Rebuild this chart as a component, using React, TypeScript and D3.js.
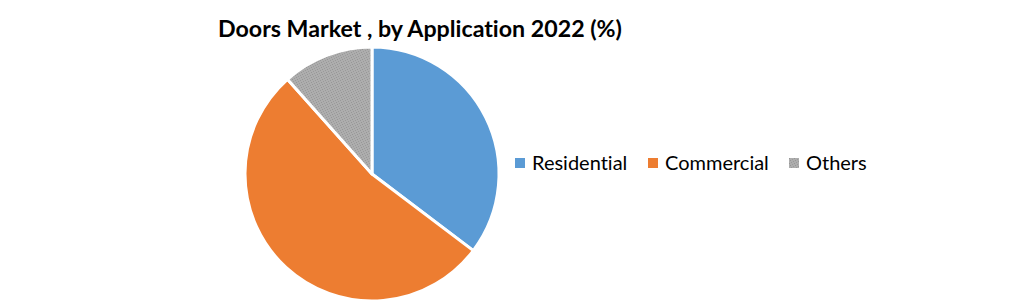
import React from "react";
import * as d3 from "d3";

const categories = ["Residential", "Commercial", "Others"];
const values = [35.3, 53.1, 11.6];
const colors = ["#5b9bd5", "#ed7d31", "#a5a5a5"];
const title = "Doors Market , by Application  2022 (%)";

export default function App() {
  const W = 1021, H = 304;
  const cx = 372, cy = 174, r = 127;
  const pie = d3.pie<number>().sort(null).value((d) => d)(values);
  const arc = d3.arc<d3.PieArcDatum<number>>().innerRadius(0).outerRadius(r);
  const legendX = [515, 648, 789];
  return (
    <svg width={W} height={H} style={{ position: "absolute", left: 0, top: 0, fontVariantLigatures: "none" }} fontFamily="Lato, 'Open Sans', sans-serif">
      <defs>
        <pattern id="dots" width="5" height="5" patternUnits="userSpaceOnUse">
          <rect width="5" height="5" fill="#adadad" />
          <rect x="0" y="0" width="1" height="1" fill="#959595" />
          <rect x="3" y="1" width="1" height="1" fill="#999999" />
          <rect x="1" y="2" width="1" height="1" fill="#9a9a9a" />
          <rect x="4" y="3" width="1" height="1" fill="#969696" />
          <rect x="2" y="4" width="1" height="1" fill="#9b9b9b" />
        </pattern>
      </defs>
      <rect width={W} height={H} fill="#fff" />
      <text x={420} y={37} textAnchor="middle" fontWeight="bold" fontSize={23} fill="#000" textLength={404} lengthAdjust="spacingAndGlyphs">{title}</text>
      <g transform={`translate(${cx},${cy})`}>
        {pie.map((p, i) => (
          <path key={i} d={arc(p) || ""} fill={i === 2 ? "url(#dots)" : colors[i]} stroke="#fff" strokeWidth={3} strokeLinejoin="round" />
        ))}
      </g>
      {categories.map((c, i) => (
        <g key={c}>
          <rect x={legendX[i]} y={158} width={10} height={10} fill={i === 2 ? "url(#dots)" : colors[i]} />
          <text x={legendX[i] + 17} y={170} fontSize={20} fill="#000">{c}</text>
        </g>
      ))}
    </svg>
  );
}
